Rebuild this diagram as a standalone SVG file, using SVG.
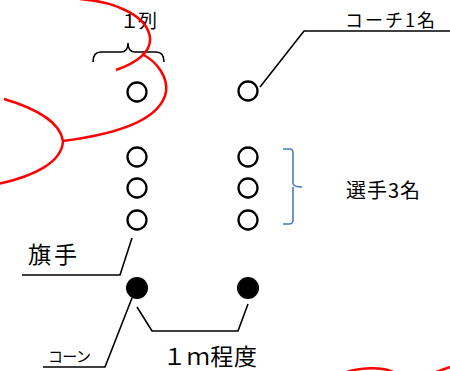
<svg xmlns="http://www.w3.org/2000/svg" width="450" height="371" viewBox="0 0 450 371">
<style>
.t{font-family:"Noto Sans CJK JP","Noto Sans",sans-serif;fill:#000}
.open{fill:none;stroke:#000;stroke-width:2.3}
.cone{fill:#000}
.ln{fill:none;stroke:#000;stroke-width:1.6}
.red{fill:none;stroke:#f00;stroke-width:2.5}
.blue{fill:none;stroke:#4a7ebb;stroke-width:1.6}
</style>
<rect width="450" height="371" fill="#fff"/>
<g id="connectors">
<path class="ln" d="M260,87 L304,31 L450,31"/>
<path class="ln" d="M22,275 L120,275 L132,238"/>
<path class="ln" d="M43,367 L105,367 L132,298"/>
<path class="ln" d="M137,307 L152,331 L238,331 L248,304"/>
</g>
<g id="brace-1retsu"><path class="ln" d="M93,62 Q93,52 101,52 L121,52 Q128,52 128,43 Q128,52 135,52 L156,52 Q164,52 164,62"/></g>
<g id="label-1retsu"><text class="t" x="120" y="28" font-size="19" textLength="37">１列</text></g>
<g id="label-coach"><text class="t" x="345" y="27" font-size="18" textLength="90">コーチ1名</text></g>
<g id="brace-players"><path class="blue" d="M283,149 L290,149 Q293,149 293,153 L293,183 Q293,187 302,187 M293,187 Q293,187 293,191 L293,220 Q293,224 289,224 L283,224"/></g>
<g id="label-players"><text class="t" x="346" y="198" font-size="20" textLength="74">選手3名</text></g>
<g id="label-flag"><text class="t" x="28" y="263" font-size="23" textLength="49">旗手</text></g>
<g id="label-cone"><text class="t" x="48" y="362" font-size="15" textLength="43">コーン</text></g>
<g id="label-1m"><text class="t" x="163" y="365" font-size="23" textLength="94">１ｍ程度</text></g>
<g id="coach"><circle class="open" cx="248" cy="91" r="9.5"/></g>
<g id="p1-1"><circle class="open" cx="137" cy="92" r="9.5"/></g>
<g id="p1-2"><circle class="open" cx="137" cy="157" r="9.5"/></g>
<g id="p1-3"><circle class="open" cx="137" cy="188" r="9.5"/></g>
<g id="p1-4"><circle class="open" cx="137" cy="220" r="9.5"/></g>
<g id="p2-2"><circle class="open" cx="248" cy="157" r="9.5"/></g>
<g id="p2-3"><circle class="open" cx="248" cy="188" r="9.5"/></g>
<g id="p2-4"><circle class="open" cx="248" cy="220" r="9.5"/></g>
<g id="cone-1"><circle class="cone" cx="137" cy="288" r="11"/></g>
<g id="cone-2"><circle class="cone" cx="248" cy="288" r="11"/></g>
<g id="red-marks">
<path class="red" d="M80,-1 C120,2 148,18 150,38 C151,52 138,62 116,70"/>
<path class="red" d="M142,54 C158,62 168,78 166,92 C160,122 110,135 63,141"/>
<path class="red" d="M4,99 C35,108 60,122 63,141 C62,162 35,176 -2,184"/>
<path class="red" d="M347,372 C358,368 382,366 393,372"/>
<path class="red" d="M436,372 C442,370 446,368 451,367"/>
</g>
</svg>
